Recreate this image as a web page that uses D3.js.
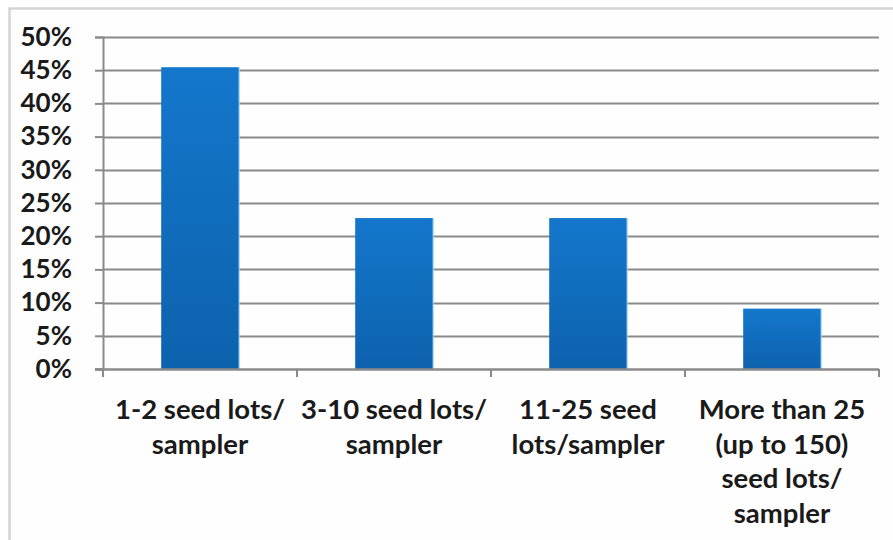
<!DOCTYPE html>
<html>
<head>
<meta charset="utf-8">
<script src="https://cdn.jsdelivr.net/npm/d3@7"></script>
<style>
  html, body { margin: 0; padding: 0; background: #fff; }
  svg { display: block; }
  text { font-family: "Lato", "Open Sans", sans-serif; font-weight: 700; fill: #1a1a1a; }
</style>
</head>
<body>
<svg id="chart" width="893" height="540"></svg>
<script>
// Share of samplers by number of seed lots handled
const categories = [
  ["1-2 seed lots/", "sampler"],
  ["3-10 seed lots/", "sampler"],
  ["11-25 seed", "lots/sampler"],
  ["More than 25", "(up to 150)", "seed lots/", "sampler"]
];
const values = [0.4545, 0.2273, 0.2273, 0.0909];
const yTicks = [0, 0.05, 0.10, 0.15, 0.20, 0.25, 0.30, 0.35, 0.40, 0.45, 0.50];

const svg = d3.select("#chart");
const W = 893, H = 540;
const margin = { left: 103, right: 14, top: 37, bottom: 171 };

// outer chart frame
svg.append("rect")
  .attr("x", 9.5).attr("y", 8.5)
  .attr("width", W + 20).attr("height", H + 20)
  .attr("fill", "#fefefe")
  .attr("stroke", "#d4d4d4").attr("stroke-width", 2.5);

const x = d3.scaleBand()
  .domain(d3.range(categories.length))
  .range([margin.left, W - margin.right])
  .paddingInner(0.6).paddingOuter(0.3);

const y = d3.scaleLinear()
  .domain([0, 0.5])
  .range([H - margin.bottom, margin.top]);

const defs = svg.append("defs");
const grad = defs.append("linearGradient")
  .attr("id", "barGrad").attr("x1", 0).attr("y1", 0).attr("x2", 0).attr("y2", 1);
grad.append("stop").attr("offset", "0%").attr("stop-color", "#1477cc");
grad.append("stop").attr("offset", "100%").attr("stop-color", "#0d62ad");

// gridlines
svg.append("g")
  .selectAll("line")
  .data(yTicks.filter(d => d > 0))
  .join("line")
  .attr("x1", margin.left).attr("x2", W - margin.right)
  .attr("y1", d => Math.round(y(d)) + 0.5).attr("y2", d => Math.round(y(d)) + 0.5)
  .attr("stroke", "#8a8a8a").attr("stroke-width", 2);

// y axis
const yAxis = d3.axisLeft(y)
  .tickValues(yTicks)
  .tickFormat(d3.format(".0%"))
  .tickSize(8)
  .tickPadding(23);
const gy = svg.append("g")
  .attr("transform", `translate(${margin.left},0)`)
  .call(yAxis);
gy.select(".domain").attr("stroke", "#8a8a8a").attr("stroke-width", 2);
gy.selectAll(".tick line").attr("stroke", "#8a8a8a").attr("stroke-width", 2);
gy.selectAll(".tick text")
  .style("font-size", "26px")
  .attr("fill", "#1a1a1a")
  .attr("font-family", "Lato, 'Open Sans', sans-serif")
  .attr("font-weight", 700);

// bars
svg.append("g")
  .selectAll("rect")
  .data(values)
  .join("rect")
  .attr("x", (d, i) => x(i))
  .attr("y", d => y(d))
  .attr("width", x.bandwidth())
  .attr("height", d => y(0) - y(d))
  .attr("fill", "url(#barGrad)");

// light edge on the right of each bar
svg.append("g")
  .selectAll("line")
  .data(values)
  .join("line")
  .attr("x1", (d, i) => x(i) + x.bandwidth() + 0.5)
  .attr("x2", (d, i) => x(i) + x.bandwidth() + 0.5)
  .attr("y1", d => y(d)).attr("y2", y(0))
  .attr("stroke", "#9fd6f2").attr("stroke-width", 1);

// x axis with tick marks at category boundaries
const x0 = margin.left, step = (W - margin.right - margin.left) / categories.length;
const gx = svg.append("g");
gx.append("line")
  .attr("x1", x0 - 8).attr("x2", W - margin.right)
  .attr("y1", y(0) + 0.5).attr("y2", y(0) + 0.5)
  .attr("stroke", "#8a8a8a").attr("stroke-width", 2.5);
gx.selectAll("line.tk")
  .data(d3.range(categories.length + 1))
  .join("line")
  .attr("class", "tk")
  .attr("x1", i => x0 + i * step).attr("x2", i => x0 + i * step)
  .attr("y1", y(0)).attr("y2", y(0) + 8)
  .attr("stroke", "#8a8a8a").attr("stroke-width", 2);

// category labels
const labels = svg.append("g")
  .selectAll("text")
  .data(categories)
  .join("text")
  .attr("text-anchor", "middle")
  .style("font-size", "27.5px")
  .attr("x", (d, i) => x(i) + x.bandwidth() / 2)
  .attr("y", 419);
labels.selectAll("tspan")
  .data(d => d)
  .join("tspan")
  .attr("x", function() { return d3.select(this.parentNode).attr("x"); })
  .attr("dy", (d, j) => j === 0 ? 0 : 34.5)
  .text(d => d);
</script>
</body>
</html>
